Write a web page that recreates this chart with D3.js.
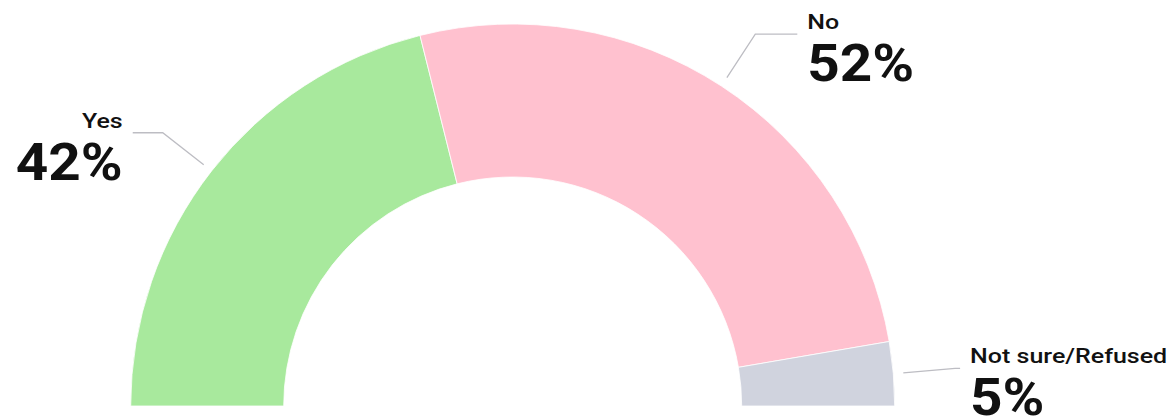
<!DOCTYPE html>
<html>
<head>
<meta charset="utf-8">
<script src="https://cdn.jsdelivr.net/npm/d3@7"></script>
<style>
  html, body { margin: 0; padding: 0; background: #fff; }
  svg { display: block; font-family: Roboto, "Noto Sans", sans-serif; }
</style>
</head>
<body>
<svg width="1173" height="417"></svg>
<script>
(function(d3) {
    'use strict';

    // data
    const categories = ['Yes', 'No', 'Not sure/Refused'];
    const values = [42.2, 52.4, 5.4];
    const shownPct = ['42%', '52%', '5%'];
    const colors = ['#a8e99d', '#ffc1cf', '#d0d3de'];
    // horizontal part of each leader line
    const labelReach = [30, 42, 5];

    const svg = d3.select('svg');
    const cx = 512.7, cy = 406;
    const rOuter = 382, rInner = 229;

    const pie = d3.pie()
        .sort(null)
        .startAngle(-Math.PI / 2)
        .endAngle(Math.PI / 2)
        .value(d => d.value);

    const rows = categories.map((c, i) => ({
        name: c, value: values[i], pct: shownPct[i], color: colors[i], reach: labelReach[i]
    }));

    const arcs = pie(rows);
    const arc = d3.arc().innerRadius(rInner).outerRadius(rOuter);

    const g = svg.append('g').attr('transform', `translate(${cx},${cy})`);

    g.selectAll('path.slice').data(arcs)
        .enter().append('path')
        .attr('class', 'slice')
        .attr('d', arc)
        .attr('fill', d => d.data.color)
        .attr('stroke', '#fff')
        .attr('stroke-width', 0.8);

    const pointAt = (a, r) => [r * Math.sin(a), -r * Math.cos(a)];

    const labels = g.selectAll('g.label').data(arcs)
        .enter().append('g')
        .attr('class', 'label');

    // the type in the reference is a little wider than Roboto
    const nameStretch = 1.19, pctStretch = 1.09;

    labels.each(function(d) {
        const sel = d3.select(this);
        const mid = (d.startAngle + d.endAngle) / 2;
        const left = Math.sin(mid) < 0;
        const p0 = pointAt(mid, rOuter + 10);
        const p1 = pointAt(mid, rOuter + 62);
        const p2 = [p1[0] + (left ? -1 : 1) * d.data.reach, p1[1]];

        sel.append('polyline')
            .attr('points', [p0, p1, p2].map(p => p.join(',')).join(' '))
            .attr('fill', 'none')
            .attr('stroke', '#bdbdc3')
            .attr('stroke-width', 1.3);

        const tx = p2[0] + (left ? -10 : 10);
        const anchor = left ? 'end' : 'start';

        sel.append('text')
            .attr('transform', `translate(${tx},${p2[1] - 5}) scale(${nameStretch},1)`)
            .attr('text-anchor', anchor)
            .attr('font-size', 21)
            .attr('font-weight', 500)
            .attr('fill', '#111')
            .text(d.data.name);

        sel.append('text')
            .attr('transform', `translate(${tx},${p2[1] + 47}) scale(${pctStretch},1)`)
            .attr('text-anchor', anchor)
            .attr('font-size', 52)
            .attr('font-weight', 700)
            .attr('fill', '#111')
            .text(d.data.pct);
    });

}(d3));
</script>
</body>
</html>
